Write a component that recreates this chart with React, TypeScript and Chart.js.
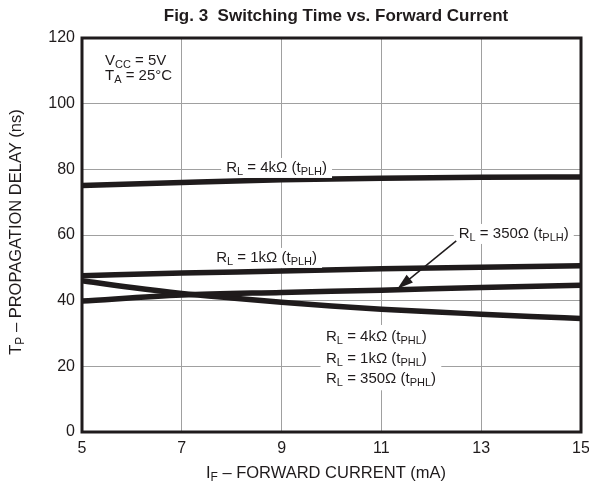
import React, { useEffect, useRef } from "react";
import { Chart, registerables } from "chart.js";

Chart.register(...registerables);

const currentMA = [5, 7, 9, 11, 13, 15];
const currentPHL = [5, 6, 7, 8, 9, 10, 11, 12, 13, 14, 15];
const tplh4k = [75.1, 76.0, 76.8, 77.3, 77.6, 77.7];
const tplh1k = [47.6, 48.4, 49.0, 49.7, 50.2, 50.6];
const tplh350 = [39.9, 41.7, 42.5, 43.2, 44.0, 44.7];
const tphl = [46.1, 44.0, 42.2, 40.8, 39.5, 38.4, 37.4, 36.6, 35.9, 35.2, 34.6];
const xTicks = [5, 7, 9, 11, 13, 15];
const yTicks = [0, 20, 40, 60, 80, 100, 120];

const FONT = "'Liberation Sans', Arial, Helvetica, sans-serif";
const INK = "#1f1b1c";

type Part = { t: string; sub?: boolean };

function richWidth(ctx: CanvasRenderingContext2D, parts: Part[], size: number, subSize: number, bold = false) {
  let w = 0;
  for (const p of parts) {
    ctx.font = `${bold ? "bold " : ""}${p.sub ? subSize : size}px ${FONT}`;
    w += ctx.measureText(p.t).width;
  }
  return w;
}

function drawRich(
  ctx: CanvasRenderingContext2D,
  parts: Part[],
  x: number,
  y: number,
  align: "left" | "center",
  size = 15,
  subSize = 11,
  bold = false
) {
  const w = richWidth(ctx, parts, size, subSize, bold);
  let cx = align === "center" ? x - w / 2 : x;
  ctx.textAlign = "left";
  ctx.textBaseline = "alphabetic";
  ctx.fillStyle = INK;
  for (const p of parts) {
    ctx.font = `${bold ? "bold " : ""}${p.sub ? subSize : size}px ${FONT}`;
    ctx.fillText(p.t, cx, p.sub ? y + 3 : y);
    cx += ctx.measureText(p.t).width;
  }
  return w;
}

const annotPlugin = {
  id: "annot",
  afterDraw(chart: any) {
    const ctx: CanvasRenderingContext2D = chart.ctx;
    const xs = chart.scales.x;
    const ys = chart.scales.y;
    const ca = chart.chartArea;
    const px = (v: number) => xs.getPixelForValue(v);
    const py = (v: number) => ys.getPixelForValue(v);
    ctx.save();

    // title
    drawRich(ctx, [{ t: "Fig. 3  Switching Time vs. Forward Current" }], 336, 21, "center", 17, 12, true);

    // condition box
    ctx.fillStyle = "#ffffff";
    ctx.fillRect(ca.left + 10, ca.top + 12, 84, 45);
    drawRich(ctx, [{ t: "V" }, { t: "CC", sub: true }, { t: " = 5V" }], ca.left + 23, ca.top + 27, "left", 15, 11);
    drawRich(ctx, [{ t: "T" }, { t: "A", sub: true }, { t: " = 25°C" }], ca.left + 23, ca.top + 42, "left", 15, 11);

    const lbl = (tag: string, sub: string, x: number, y: number, align: "left" | "center") => {
      const parts: Part[] = [{ t: "R" }, { t: "L", sub: true }, { t: ` = ${tag} (t` }, { t: sub, sub: true }, { t: ")" }];
      const w = richWidth(ctx, parts, 15, 11);
      const lx = align === "center" ? x - w / 2 : x;
      ctx.fillStyle = "#ffffff";
      ctx.fillRect(lx - 5, y - 14, w + 10, 20);
      drawRich(ctx, parts, x, y, align, 15, 11);
    };

    lbl("4kΩ", "PLH", px(8.9), py(79.2), "center");
    lbl("1kΩ", "PLH", px(8.7), py(51.8), "center");
    lbl("350Ω", "PLH", px(12.55), py(59.1), "left");

    // PHL group box
    ctx.fillStyle = "#ffffff";
    ctx.fillRect(px(9.78), py(32.6), px(12.2) - px(9.78), py(12.7) - py(32.6));
    const phl: [string, number][] = [["4kΩ", 27.7], ["1kΩ", 21.0], ["350Ω", 14.9]];
    for (const [tag, v] of phl) {
      drawRich(ctx, [{ t: "R" }, { t: "L", sub: true }, { t: ` = ${tag} (t` }, { t: "PHL", sub: true }, { t: ")" }], px(9.89), py(v), "left", 15, 11);
    }

    // arrow
    const x0 = px(12.5), y0 = py(58.2);
    const x1 = px(11.32), y1 = py(43.6);
    const ang = Math.atan2(y1 - y0, x1 - x0);
    ctx.strokeStyle = INK;
    ctx.lineWidth = 1.5;
    ctx.beginPath();
    ctx.moveTo(x0, y0);
    ctx.lineTo(x1 - Math.cos(ang) * 8, y1 - Math.sin(ang) * 8);
    ctx.stroke();
    ctx.fillStyle = INK;
    ctx.beginPath();
    ctx.moveTo(x1, y1);
    ctx.lineTo(x1 - Math.cos(ang) * 16 + Math.sin(ang) * 5, y1 - Math.sin(ang) * 16 - Math.cos(ang) * 5);
    ctx.lineTo(x1 - Math.cos(ang) * 16 - Math.sin(ang) * 5, y1 - Math.sin(ang) * 16 + Math.cos(ang) * 5);
    ctx.closePath();
    ctx.fill();

    // axis titles
    drawRich(ctx, [{ t: "I" }, { t: "F", sub: true }, { t: " – FORWARD CURRENT (mA)" }], 326, 478, "center", 16.5, 12);
    ctx.save();
    ctx.translate(21, 232);
    ctx.rotate(-Math.PI / 2);
    drawRich(ctx, [{ t: "T" }, { t: "P", sub: true }, { t: " – PROPAGATION DELAY (ns)" }], 0, 0, "center", 16.5, 12);
    ctx.restore();

    // frame
    ctx.strokeStyle = INK;
    ctx.lineWidth = 3;
    ctx.strokeRect(ca.left, ca.top, ca.right - ca.left, ca.bottom - ca.top);
    ctx.restore();
  },
};

export default function App() {
  const ref = useRef<HTMLCanvasElement | null>(null);
  useEffect(() => {
    if (!ref.current) return;
    const mk = (xv: number[], yv: number[]) => xv.map((x, i) => ({ x, y: yv[i] }));
    const ds = (label: string, data: { x: number; y: number }[]) => ({
      label,
      data,
      borderColor: INK,
      backgroundColor: INK,
      borderWidth: 5.5,
      pointRadius: 0,
      tension: 0.4,
      cubicInterpolationMode: "monotone" as const,
      fill: false,
    });
    const chart = new Chart(ref.current, {
      type: "line",
      data: {
        datasets: [
          ds("RL = 4kΩ (tPLH)", mk(currentMA, tplh4k)),
          ds("RL = 1kΩ (tPLH)", mk(currentMA, tplh1k)),
          ds("RL = 350Ω (tPLH)", mk(currentMA, tplh350)),
          ds("tPHL", mk(currentPHL, tphl)),
        ],
      },
      options: {
        animation: false,
        responsive: true,
        maintainAspectRatio: false,
        layout: { padding: { left: 0, right: 8, top: 38, bottom: 0 } },
        plugins: { legend: { display: false }, tooltip: { enabled: false }, title: { display: false } },
        scales: {
          x: {
            type: "linear",
            min: 5,
            max: 15,
            afterBuildTicks: (s: any) => {
              s.ticks = xTicks.map((v) => ({ value: v }));
            },
            afterFit: (s: any) => {
              s.height = 57;
              s.paddingLeft = 0;
              s.paddingRight = 0;
            },
            ticks: { color: INK, font: { family: FONT, size: 16 }, padding: 7, maxRotation: 0 },
            grid: { color: "#a0a0a0", lineWidth: 1, drawTicks: false },
            border: { display: false },
          },
          y: {
            type: "linear",
            min: 0,
            max: 120,
            afterBuildTicks: (s: any) => {
              s.ticks = yTicks.map((v) => ({ value: v }));
            },
            afterFit: (s: any) => {
              s.width = 82;
            },
            ticks: { color: INK, font: { family: FONT, size: 16 }, padding: 7 },
            grid: { color: "#a0a0a0", lineWidth: 1, drawTicks: false },
            border: { display: false },
          },
        },
      },
      plugins: [annotPlugin],
    });
    return () => chart.destroy();
  }, []);
  return (
    <div style={{ position: "fixed", left: 0, top: 0, width: 589, height: 489, background: "#ffffff" }}>
      <canvas ref={ref} />
    </div>
  );
}
